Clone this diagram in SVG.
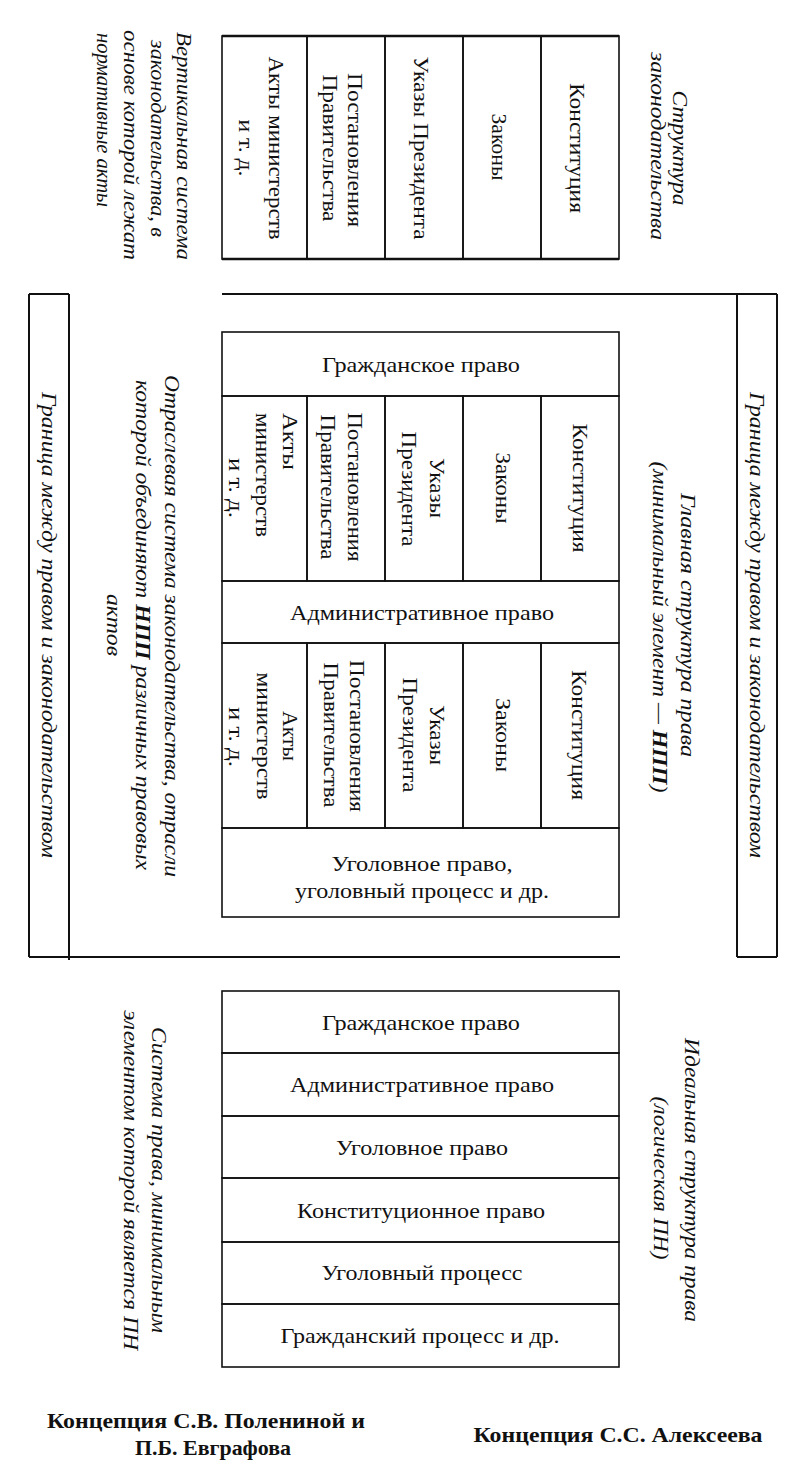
<svg xmlns="http://www.w3.org/2000/svg" width="800" height="1474" viewBox="0 0 800 1474">
<style>
.cell{fill:none;stroke:#111;stroke-width:1.6}
.ln{fill:none;stroke:#111;stroke-width:2}
.thick{fill:none;stroke:#111;stroke-width:2.6}
.t{font-family:"Liberation Serif","Times New Roman",serif;font-size:22px;fill:#111;text-anchor:middle;dominant-baseline:central}
.i{font-style:italic;font-size:20px}
.b{font-weight:bold}
.s{text-anchor:start}
</style>
<rect width="800" height="1474" fill="#fff"/>

<!-- TOP: structure of legislation -->
<g id="top-table">
  <g id="top-konst"><rect class="cell" x="541" y="36" width="78" height="223"/>
    <text class="t" transform="translate(577,148) rotate(90)" textLength="130" lengthAdjust="spacingAndGlyphs">Конституция</text></g>
  <g id="top-zakony"><rect class="cell" x="463" y="36" width="78" height="223"/>
    <text class="t" transform="translate(499,147) rotate(90)" textLength="67" lengthAdjust="spacingAndGlyphs">Законы</text></g>
  <g id="top-ukazy"><rect class="cell" x="385" y="36" width="78" height="223"/>
    <text class="t" transform="translate(421,148) rotate(90)" textLength="183" lengthAdjust="spacingAndGlyphs">Указы Президента</text></g>
  <g id="top-postanovl"><rect class="cell" x="307" y="36" width="78" height="223"/>
    <text class="t" transform="translate(355,150) rotate(90)" textLength="154" lengthAdjust="spacingAndGlyphs">Постановления</text>
    <text class="t" transform="translate(330,148) rotate(90)" textLength="147" lengthAdjust="spacingAndGlyphs">Правительства</text></g>
  <g id="top-akty"><rect class="cell" x="222" y="36" width="85" height="223"/>
    <text class="t" transform="translate(276,148) rotate(90)" textLength="183" lengthAdjust="spacingAndGlyphs">Акты министерств</text>
    <text class="t" transform="translate(246,148) rotate(90)" textLength="57" lengthAdjust="spacingAndGlyphs">и т. д.</text></g>
  <line class="thick" x1="222" y1="36" x2="619" y2="36"/>
  <line class="thick" x1="222" y1="259" x2="619" y2="259"/>
</g>
<g id="top-label-right">
  <text class="t i" transform="translate(680,148) rotate(90)" textLength="115" lengthAdjust="spacingAndGlyphs">Структура</text>
  <text class="t i" transform="translate(658,146) rotate(90)" textLength="188" lengthAdjust="spacingAndGlyphs">законодательства</text>
</g>
<g id="top-label-left">
  <text class="t i s" transform="translate(184,32) rotate(90)" textLength="228" lengthAdjust="spacingAndGlyphs">Вертикальная система</text>
  <text class="t i s" transform="translate(158,40) rotate(90)" textLength="197" lengthAdjust="spacingAndGlyphs">законодательства, в</text>
  <text class="t i s" transform="translate(131,30) rotate(90)" textLength="230" lengthAdjust="spacingAndGlyphs">основе которой лежат</text>
  <text class="t i s" transform="translate(104,33) rotate(90)" textLength="174" lengthAdjust="spacingAndGlyphs">нормативные акты</text>
</g>

<!-- MIDDLE: frame -->
<g id="frame">
  <line class="ln" x1="222" y1="294" x2="777" y2="294"/>
  <line class="ln" x1="29" y1="294" x2="69" y2="294"/>
  <line class="ln" x1="29" y1="957" x2="620" y2="957"/>
  <line class="ln" x1="737" y1="957" x2="777" y2="957"/>
  <line class="ln" x1="29" y1="294" x2="29" y2="957"/>
  <line class="ln" x1="69" y1="294" x2="69" y2="960"/>
  <line class="ln" x1="737" y1="294" x2="737" y2="957"/>
  <line class="ln" x1="777" y1="294" x2="777" y2="957"/>
</g>
<g id="border-right">
  <text class="t i" transform="translate(757,625) rotate(90)" textLength="466" lengthAdjust="spacingAndGlyphs">Граница между правом и законодательством</text>
</g>
<g id="border-left">
  <text class="t i" transform="translate(49,625) rotate(90)" textLength="466" lengthAdjust="spacingAndGlyphs">Граница между правом и законодательством</text>
</g>

<g id="mid-table">
  <g id="mid-grazhd"><rect class="cell" x="222" y="332" width="397" height="64"/>
    <text class="t" x="421" y="364" textLength="198" lengthAdjust="spacingAndGlyphs">Гражданское право</text></g>
  <g id="mid1-konst"><rect class="cell" x="541" y="396" width="78" height="185"/>
    <text class="t" transform="translate(580,488) rotate(90)" textLength="129" lengthAdjust="spacingAndGlyphs">Конституция</text></g>
  <g id="mid1-zakony"><rect class="cell" x="463" y="396" width="78" height="185"/>
    <text class="t" transform="translate(503,488) rotate(90)" textLength="71" lengthAdjust="spacingAndGlyphs">Законы</text></g>
  <g id="mid1-ukazy"><rect class="cell" x="385" y="396" width="78" height="185"/>
    <text class="t" transform="translate(437,488) rotate(90)" textLength="60" lengthAdjust="spacingAndGlyphs">Указы</text>
    <text class="t" transform="translate(409,489) rotate(90)" textLength="115" lengthAdjust="spacingAndGlyphs">Президента</text></g>
  <g id="mid1-postanovl"><rect class="cell" x="307" y="396" width="78" height="185"/>
    <text class="t" transform="translate(355,487) rotate(90)" textLength="149" lengthAdjust="spacingAndGlyphs">Постановления</text>
    <text class="t" transform="translate(328,487) rotate(90)" textLength="145" lengthAdjust="spacingAndGlyphs">Правительства</text></g>
  <g id="mid1-akty"><rect class="cell" x="222" y="396" width="85" height="185"/>
    <text class="t s" transform="translate(290,413) rotate(90)" textLength="57" lengthAdjust="spacingAndGlyphs">Акты</text>
    <text class="t s" transform="translate(263,413) rotate(90)" textLength="124" lengthAdjust="spacingAndGlyphs">министерств</text>
    <text class="t" transform="translate(236,488) rotate(90)" textLength="60" lengthAdjust="spacingAndGlyphs">и т. д.</text></g>
  <g id="mid-admin"><rect class="cell" x="222" y="581" width="397" height="62"/>
    <text class="t" x="422" y="612" textLength="264" lengthAdjust="spacingAndGlyphs">Административное право</text></g>
  <g id="mid2-konst"><rect class="cell" x="541" y="643" width="78" height="185"/>
    <text class="t" transform="translate(579,735) rotate(90)" textLength="130" lengthAdjust="spacingAndGlyphs">Конституция</text></g>
  <g id="mid2-zakony"><rect class="cell" x="463" y="643" width="78" height="185"/>
    <text class="t" transform="translate(503,735) rotate(90)" textLength="74" lengthAdjust="spacingAndGlyphs">Законы</text></g>
  <g id="mid2-ukazy"><rect class="cell" x="385" y="643" width="78" height="185"/>
    <text class="t" transform="translate(437,735) rotate(90)" textLength="60" lengthAdjust="spacingAndGlyphs">Указы</text>
    <text class="t" transform="translate(410,735) rotate(90)" textLength="115" lengthAdjust="spacingAndGlyphs">Президента</text></g>
  <g id="mid2-postanovl"><rect class="cell" x="307" y="643" width="78" height="185"/>
    <text class="t" transform="translate(357,736) rotate(90)" textLength="152" lengthAdjust="spacingAndGlyphs">Постановления</text>
    <text class="t" transform="translate(331,735) rotate(90)" textLength="145" lengthAdjust="spacingAndGlyphs">Правительства</text></g>
  <g id="mid2-akty"><rect class="cell" x="222" y="643" width="85" height="185"/>
    <text class="t" transform="translate(290,736) rotate(90)" textLength="50" lengthAdjust="spacingAndGlyphs">Акты</text>
    <text class="t" transform="translate(264,736) rotate(90)" textLength="127" lengthAdjust="spacingAndGlyphs">министерств</text>
    <text class="t" transform="translate(236,737) rotate(90)" textLength="60" lengthAdjust="spacingAndGlyphs">и т. д.</text></g>
  <g id="mid-ugol"><rect class="cell" x="222" y="828" width="397" height="89"/>
    <text class="t" x="422" y="863" textLength="181" lengthAdjust="spacingAndGlyphs">Уголовное право,</text>
    <text class="t" x="422" y="890" textLength="254" lengthAdjust="spacingAndGlyphs">уголовный процесс и др.</text></g>
</g>
<g id="mid-label-right">
  <text class="t i" transform="translate(688,625) rotate(90)" textLength="264" lengthAdjust="spacingAndGlyphs">Главная структура права</text>
  <text class="t i" transform="translate(660,627) rotate(90)" textLength="331" lengthAdjust="spacingAndGlyphs">(минимальный элемент — <tspan class="b">НПП</tspan>)</text>
</g>
<g id="mid-label-left">
  <text class="t i" transform="translate(172,626) rotate(90)" textLength="502" lengthAdjust="spacingAndGlyphs">Отраслевая система законодательства, отрасли</text>
  <text class="t i" transform="translate(143,625) rotate(90)" textLength="490" lengthAdjust="spacingAndGlyphs">которой объединяют <tspan class="b">НПП</tspan> различных правовых</text>
  <text class="t i" transform="translate(114,625) rotate(90)" textLength="62" lengthAdjust="spacingAndGlyphs">актов</text>
</g>

<!-- BOTTOM: system of law -->
<g id="bottom-table">
  <g id="b-grazhd"><rect class="cell" x="222" y="991" width="397" height="62"/>
    <text class="t" x="421" y="1022" textLength="198" lengthAdjust="spacingAndGlyphs">Гражданское право</text></g>
  <g id="b-admin"><rect class="cell" x="222" y="1053" width="397" height="63"/>
    <text class="t" x="422" y="1084" textLength="264" lengthAdjust="spacingAndGlyphs">Административное право</text></g>
  <g id="b-ugol"><rect class="cell" x="222" y="1116" width="397" height="62"/>
    <text class="t" x="422" y="1147" textLength="172" lengthAdjust="spacingAndGlyphs">Уголовное право</text></g>
  <g id="b-konst"><rect class="cell" x="222" y="1178" width="397" height="64"/>
    <text class="t" x="421" y="1210" textLength="248" lengthAdjust="spacingAndGlyphs">Конституционное право</text></g>
  <g id="b-ugproc"><rect class="cell" x="222" y="1242" width="397" height="62"/>
    <text class="t" x="422" y="1272" textLength="201" lengthAdjust="spacingAndGlyphs">Уголовный процесс</text></g>
  <g id="b-grproc"><rect class="cell" x="222" y="1304" width="397" height="63"/>
    <text class="t" x="420" y="1335" textLength="279" lengthAdjust="spacingAndGlyphs">Гражданский процесс и др.</text></g>
</g>
<g id="bottom-label-right">
  <text class="t i" transform="translate(692,1180) rotate(90)" textLength="284" lengthAdjust="spacingAndGlyphs">Идеальная структура права</text>
  <text class="t i" transform="translate(661,1178) rotate(90)" textLength="163" lengthAdjust="spacingAndGlyphs">(логическая ПН)</text>
</g>
<g id="bottom-label-left">
  <text class="t i" transform="translate(159,1180) rotate(90)" textLength="306" lengthAdjust="spacingAndGlyphs">Система права, минимальным</text>
  <text class="t i" transform="translate(131,1180) rotate(90)" textLength="340" lengthAdjust="spacingAndGlyphs">элементом которой является ПН</text>
</g>

<!-- FOOTER -->
<g id="caption-left">
  <text class="t b" x="206" y="1420" textLength="318" lengthAdjust="spacingAndGlyphs">Концепция С.В. Полениной и</text>
  <text class="t b" x="213" y="1447" textLength="156" lengthAdjust="spacingAndGlyphs">П.Б. Евграфова</text>
</g>
<g id="caption-right">
  <text class="t b" x="618" y="1434" textLength="289" lengthAdjust="spacingAndGlyphs">Концепция С.С. Алексеева</text>
</g>
</svg>
